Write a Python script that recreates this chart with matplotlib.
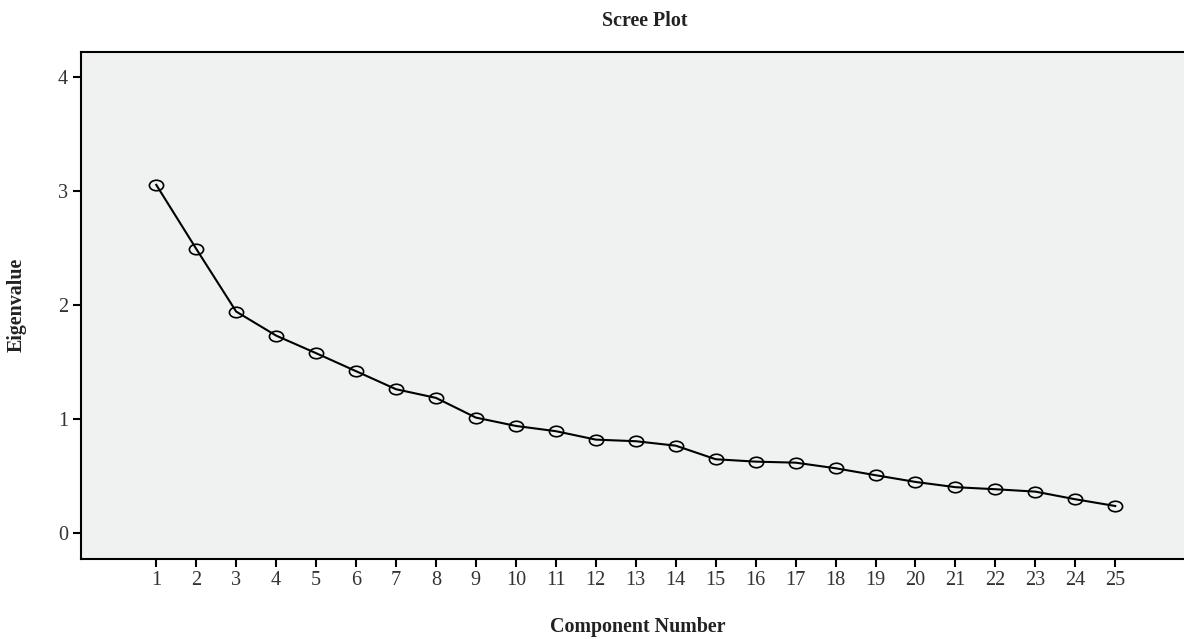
import numpy as np
import matplotlib
matplotlib.use('Agg')
import matplotlib.pyplot as plt
from matplotlib.path import Path

# Scree plot values
components = list(range(1, 26))
eigenvalues = [3.055, 2.494, 1.944, 1.733, 1.579, 1.421, 1.263, 1.187, 1.014,
               0.941, 0.895, 0.821, 0.807, 0.768, 0.649, 0.628, 0.619, 0.570,
               0.509, 0.450, 0.404, 0.386, 0.365, 0.298, 0.239]
y_ticks = [0, 1, 2, 3, 4]

plt.rcParams['font.family'] = ['Liberation Serif', 'DejaVu Serif']

fig = plt.figure(figsize=(11.84, 6.39), dpi=100)
ax = fig.add_axes([0.0682, 0.1257, 0.9318, 0.7929])
ax.set_facecolor('#f0f1f1')

# wide ellipse marker like the SPSS output
circ = Path.unit_circle()
ellipse = Path(circ.vertices * np.array([1.35, 1.0]), circ.codes)

ax.plot(components, eigenvalues, color='black', lw=1.5,
        marker=ellipse, markersize=10.2, mfc='none', mec='black', mew=1.2)

ax.set_xlim(-0.89, 26.72)
ax.set_ylim(-0.223, 4.22)
ax.set_xticks(components)
ax.set_yticks(y_ticks)

for side in ['left', 'bottom', 'top']:
    ax.spines[side].set_linewidth(1.5)
ax.spines['right'].set_visible(False)
ax.tick_params(axis='both', direction='out', length=5.5, width=1.5,
               labelsize=14.6, labelcolor='#333333', pad=3.5)

ax.set_title('Scree Plot', fontsize=14.4, fontweight='bold', color='#222222',
             pad=19, x=0.5115)
ax.set_xlabel('Component Number', fontsize=14.4, fontweight='bold', color='#222222')
ax.set_ylabel('Eigenvalue', fontsize=14.4, fontweight='bold', color='#222222')
ax.xaxis.set_label_coords(0.5045, -0.115)
ax.yaxis.set_label_coords(-0.0487, 0.5)

fig.savefig('out.png', dpi=100)
